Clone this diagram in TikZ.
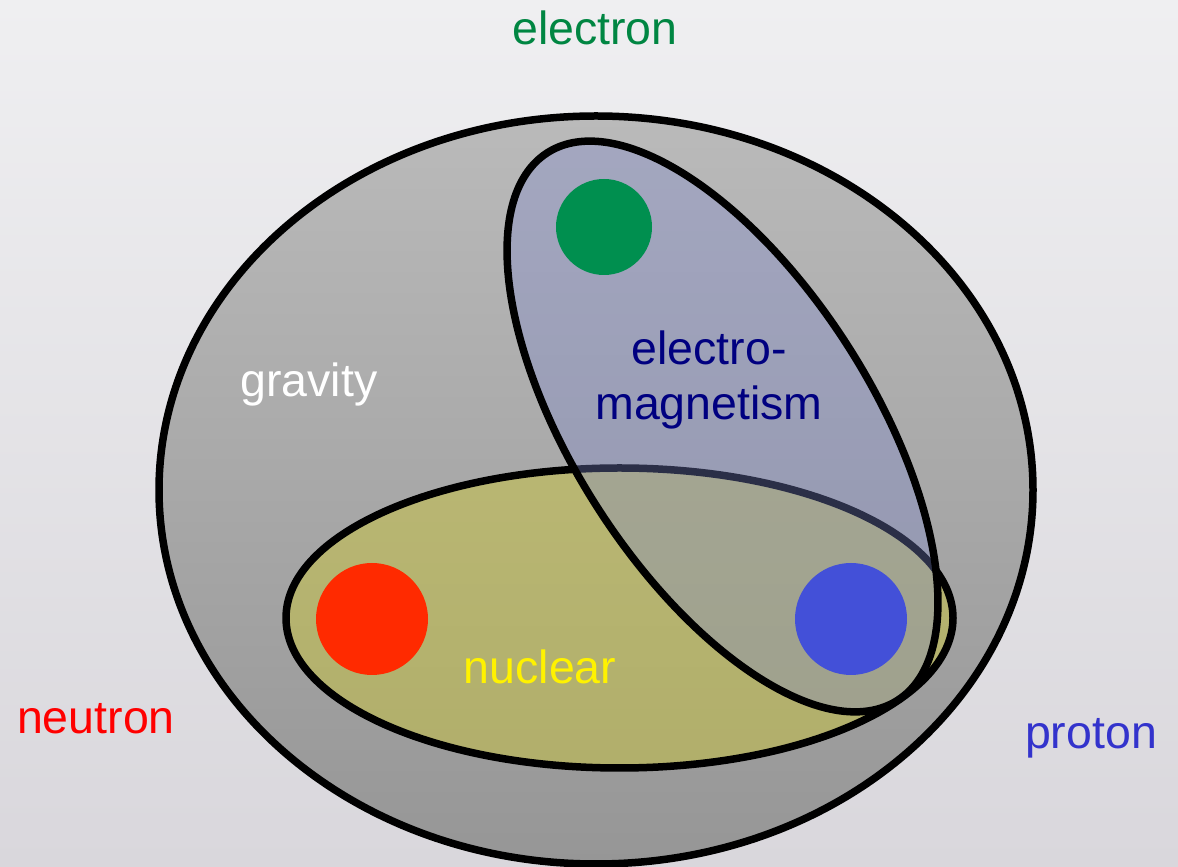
\documentclass[tikz,border=0pt]{standalone}
\usepackage{fontspec}
\setmainfont{Liberation Sans}
\begin{document}
\begin{tikzpicture}[x=1pt,y=1pt,
  lbl/.style={anchor=base,inner sep=0pt,font=\fontsize{46.5}{47}\selectfont},
  ring/.style={line width=7.5pt,draw=black},
  dot/.style={circle,inner sep=0pt,draw=none}]
\definecolor{bgtop}{RGB}{239,239,241}
\definecolor{bgbot}{RGB}{217,215,220}
\definecolor{grtop}{RGB}{186,186,186}
\definecolor{grbot}{RGB}{150,150,150}
\definecolor{yel}{RGB}{205,200,50}
\definecolor{blu}{RGB}{125,135,205}
\definecolor{egreen}{RGB}{0,143,79}
\definecolor{etext}{RGB}{0,134,66}
\definecolor{nred}{RGB}{255,42,0}
\definecolor{pblue}{RGB}{67,80,216}
\definecolor{ptext}{RGB}{51,51,204}
\definecolor{navy}{RGB}{0,0,128}
\useasboundingbox (0,0) rectangle (1178,867);
\shade[top color=bgtop,bottom color=bgbot] (0,0) rectangle (1178,867);
% gravity
\shade[ring,top color=grtop,bottom color=grbot] (596,377) ellipse [x radius=437,y radius=374];
% nuclear
\fill[yel,fill opacity=0.45] (619.5,249) ellipse [x radius=333.5,y radius=150];
\draw[ring] (619.5,249) ellipse [x radius=333.5,y radius=150];
% electromagnetism
\fill[blu,fill opacity=0.35,rotate around={-57.4:(722.5,440.5)}] (722.5,440.5) ellipse [x radius=325,y radius=149];
\draw[ring,rotate around={-57.4:(722.5,440.5)}] (722.5,440.5) ellipse [x radius=325,y radius=149];
% particles
\node[dot,fill=egreen,minimum size=96pt] (e) at (604,640) {};
\node[dot,fill=nred,minimum size=112pt] (n) at (372,248) {};
\node[dot,fill=pblue,minimum size=112pt] (p) at (851,248) {};
% labels
\node[lbl,text=etext] (te) at (595,822) {electron};
\node[lbl,text=white] (tg) at (309,470) {gravity};
\node[lbl,text=navy] (tm1) at (709,502) {electro-};
\node[lbl,text=navy] (tm2) at (709,447) {magnetism};
\node[lbl,text=yellow] (tn) at (540,183) {nuclear};
\node[lbl,text=red] (tr) at (96,133) {neutron};
\node[lbl,text=ptext] (tp) at (1091,118) {proton};
\end{tikzpicture}
\end{document}
